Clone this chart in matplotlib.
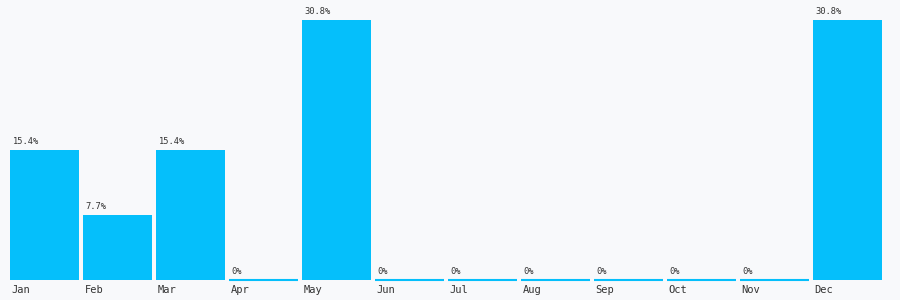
import matplotlib.pyplot as plt

months = ["Jan", "Feb", "Mar", "Apr", "May", "Jun", "Jul", "Aug", "Sep", "Oct", "Nov", "Dec"]
shares = [15.4, 7.7, 15.4, 0, 30.8, 0, 0, 0, 0, 0, 0, 30.8]
labels = ["15.4%", "7.7%", "15.4%", "0%", "30.8%", "0%", "0%", "0%", "0%", "0%", "0%", "30.8%"]

bg = "#f8f9fb"
bar_color = "#05bffb"

fig = plt.figure(figsize=(9, 3), dpi=100, facecolor=bg)
ax = fig.add_axes([10 / 900, 20 / 300, 872 / 900, 260 / 300])
ax.set_facecolor(bg)

width = 69 / 73
x = list(range(len(months)))
# empty months still show as a thin line at the baseline
lw = [0 if v else 1.5 for v in shares]
bars = ax.bar(x, shares, width=width, align="edge", color=bar_color,
              edgecolor=bar_color, linewidth=lw)
for b in bars:
    b.set_clip_on(False)

for i, (v, lab) in enumerate(zip(shares, labels)):
    ax.annotate(lab, (i, v), xytext=(2, 3), textcoords="offset points",
                ha="left", va="bottom", fontsize=6.3,
                family="DejaVu Sans Mono", color="#333333")
    ax.annotate(months[i], (i, 0), xytext=(1, -3.5), textcoords="offset points",
                ha="left", va="top", fontsize=7.5,
                family="DejaVu Sans Mono", color="#333333",
                annotation_clip=False)

ax.set_xlim(0, 11 + width)
ax.set_ylim(0, 30.8)
ax.set_xticks([])
ax.set_yticks([])
for s in ax.spines.values():
    s.set_visible(False)

fig.savefig("out.png", dpi=100, facecolor=bg)
